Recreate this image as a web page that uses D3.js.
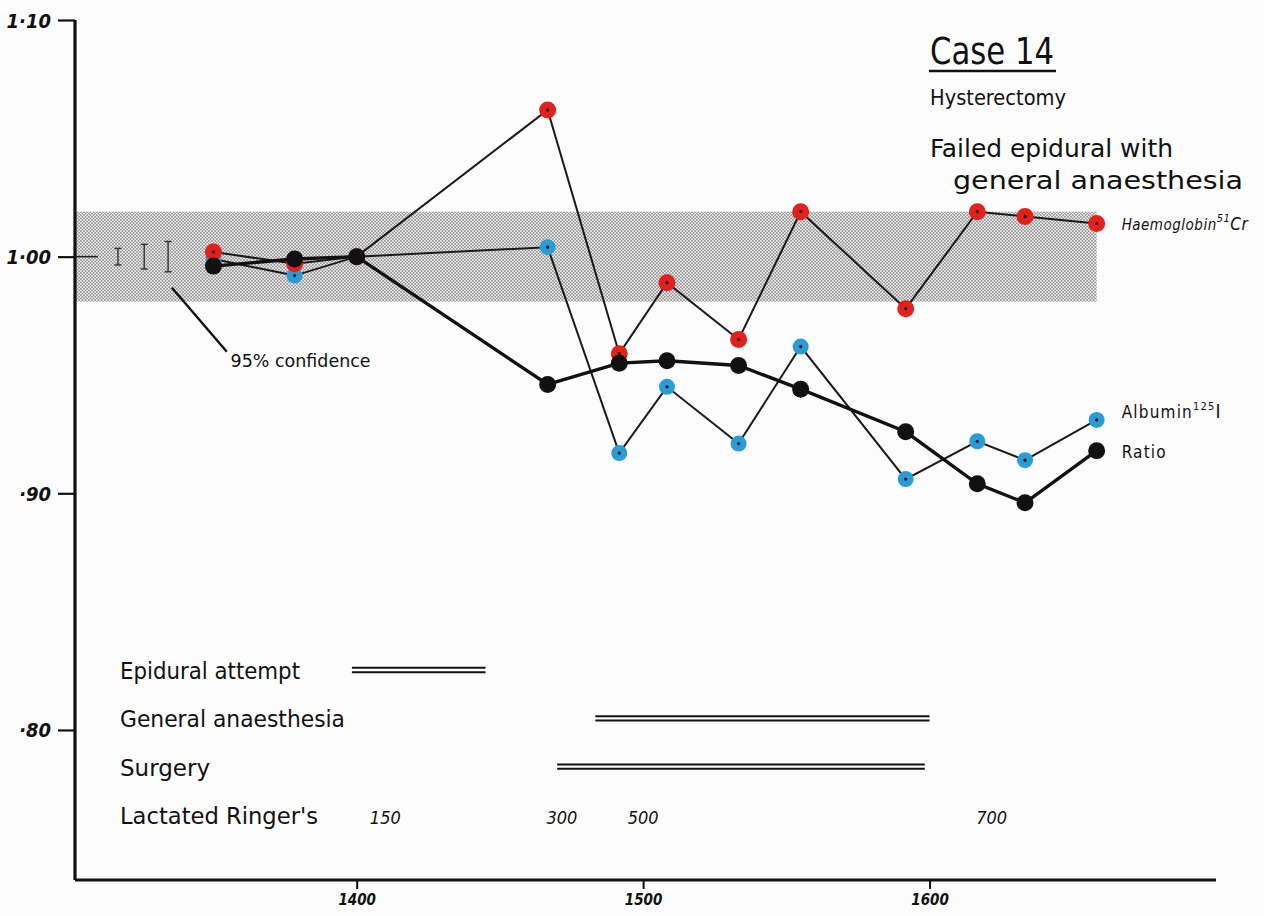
<!DOCTYPE html>
<html>
<head>
<meta charset="utf-8">
<script src="https://cdn.jsdelivr.net/npm/d3@7"></script>
<style>
  html, body { margin: 0; padding: 0; background: #fcfcfc; }
  svg { display: block; }
  .hand { font-family: "DejaVu Sans Condensed", "DejaVu Sans", sans-serif; fill: #111; }
</style>
</head>
<body>
<svg id="chart" width="1264" height="916"></svg>
<script>
// ---------------- DATA ----------------
const sampleTimes = ["13:30","13:47","14:00","14:40","14:55","15:05","15:20","15:33","15:55","16:10","16:20","16:35"];
const haemoglobin = [1.002, 0.997, 1.000, 1.062, 0.959, 0.989, 0.965, 1.019, 0.978, 1.019, 1.017, 1.014];
const albumin     = [0.999, 0.992, 1.000, 1.004, 0.917, 0.945, 0.921, 0.962, 0.906, 0.922, 0.914, 0.931];
const ratio       = [0.996, 0.999, 1.000, 0.946, 0.955, 0.956, 0.954, 0.944, 0.926, 0.904, 0.896, 0.918];

const yTickValues = [1.10, 1.00, 0.90, 0.80];
const yTickLabels = ["1·10", "1·00", "·90", "·80"];
const xTickTimes  = ["14:00", "15:00", "16:00"];
const xTickLabels = ["1400", "1500", "1600"];

const bandRange = [0.981, 1.019];          // normal range (shaded)
const bandEnd = "16:35";
const confTimes = ["13:10", "13:15.5", "13:20.5"];
const confHalf  = [0.0035, 0.0052, 0.0064];

const activities     = ["Epidural attempt", "General anaesthesia", "Surgery", "Lactated Ringer's"];
const activityStart  = ["13:59", "14:50", "14:42"];
const activityEnd    = ["14:27", "16:00", "15:59"];
const ringerTimes    = ["14:06", "14:43", "15:00", "16:13"];
const ringerVolumes  = ["150", "300", "500", "700"];

const titleLines = ["Case 14", "Hysterectomy", "Failed epidural with", "general anaesthesia"];
const seriesNames = ["Haemoglobin", "Albumin", "Ratio"];
const seriesSup   = ["51", "125", ""];
const seriesSuffix = ["Cr", "I", ""];

// ---------------- SETUP ----------------
const toMin = s => { const [h, m] = s.split(":"); return +h * 60 + parseFloat(m); };
const svg = d3.select("#chart");

const x = d3.scaleLinear().domain([781, 1020]).range([75, 1216]);
const y = d3.scaleLinear().domain([0.7366, 1.10]).range([880, 20]);
const rowY = d3.scalePoint().domain(activities).range([670, 815]);

// stipple pattern
const defs = svg.append("defs");
const pat = defs.append("pattern").attr("id", "stipple")
  .attr("width", 3.2).attr("height", 3.2).attr("patternUnits", "userSpaceOnUse");
pat.append("rect").attr("width", 3.2).attr("height", 3.2).attr("fill", "#ececec");
pat.append("circle").attr("cx", 0.8).attr("cy", 0.8).attr("r", 0.8).attr("fill", "#7a7a7a");
pat.append("circle").attr("cx", 2.4).attr("cy", 2.4).attr("r", 0.8).attr("fill", "#7a7a7a");

// shaded band
svg.append("rect")
  .attr("x", x(781)).attr("y", y(bandRange[1]))
  .attr("width", x(toMin(bandEnd)) - x(781))
  .attr("height", y(bandRange[0]) - y(bandRange[1]))
  .attr("fill", "url(#stipple)");

// ---------------- AXES ----------------
const yAxis = d3.axisLeft(y).tickValues(yTickValues)
  .tickFormat((d, i) => yTickLabels[i]).tickSize(17).tickPadding(7);
const gy = svg.append("g").attr("transform", `translate(${x(781)},0)`).call(yAxis);
gy.select(".domain").attr("stroke", "#111").attr("stroke-width", 3.2).attr("d", `M0,${y(1.10)}V${y(0.7366)}`);
gy.selectAll(".tick line").attr("stroke", "#111").attr("stroke-width", 2.2);
gy.selectAll(".tick text").attr("class", "hand")
  .style("font-size", "20px").style("font-weight", "bold").style("font-style", "italic")
  .attr("dy", "0.35em");
// 1.00 tick continues into the band
svg.append("line").attr("x1", x(781)).attr("x2", x(781) + 23)
  .attr("y1", y(1.0)).attr("y2", y(1.0)).attr("stroke", "#222").attr("stroke-width", 1.6);

const xAxis = d3.axisBottom(x).tickValues(xTickTimes.map(toMin))
  .tickFormat((d, i) => xTickLabels[i]).tickSize(9).tickPadding(5);
const gx = svg.append("g").attr("transform", `translate(0,${y(0.7366)})`).call(xAxis);
gx.select(".domain").attr("stroke", "#111").attr("stroke-width", 3).attr("d", `M${x(781)},0H${x(1020)}`);
gx.selectAll(".tick line").attr("stroke", "#111").attr("stroke-width", 2);
gx.selectAll(".tick text").attr("class", "hand")
  .style("font-size", "15px").style("font-weight", "bold").style("font-style", "italic");

// ---------------- CONFIDENCE BARS ----------------
confTimes.forEach((t, i) => {
  const cx = x(toMin(t)), y1 = y(1 + confHalf[i]), y2 = y(1 - confHalf[i]);
  const g = svg.append("g").attr("stroke", "#333").attr("stroke-width", 1.4);
  g.append("line").attr("x1", cx).attr("x2", cx).attr("y1", y1).attr("y2", y2);
  g.append("line").attr("x1", cx - 3.5).attr("x2", cx + 3.5).attr("y1", y1).attr("y2", y1);
  g.append("line").attr("x1", cx - 3.5).attr("x2", cx + 3.5).attr("y1", y2).attr("y2", y2);
});
svg.append("line")
  .attr("x1", x(801.3)).attr("y1", y(0.9869)).attr("x2", x(812.8)).attr("y2", y(0.9598))
  .attr("stroke", "#111").attr("stroke-width", 2.4);
svg.append("text").attr("class", "hand").attr("x", x(813.6)).attr("y", y(0.9533))
  .attr("textLength", 140).attr("lengthAdjust", "spacingAndGlyphs")
  .style("font-size", "17px").text("95% confidence");

// ---------------- SERIES ----------------
const times = sampleTimes.map(toMin);
const line = d3.line().x(d => x(d[0])).y(d => y(d[1]));
const pts = arr => times.map((t, i) => [t, arr[i]]);

svg.append("path").datum(pts(albumin)).attr("d", line)
  .attr("fill", "none").attr("stroke", "#1a1a1a").attr("stroke-width", 2);
svg.append("path").datum(pts(haemoglobin)).attr("d", line)
  .attr("fill", "none").attr("stroke", "#1a1a1a").attr("stroke-width", 2);
svg.append("path").datum(pts(ratio)).attr("d", line)
  .attr("fill", "none").attr("stroke", "#111").attr("stroke-width", 3.4);

function dots(arr, color, r, centre) {
  const g = svg.append("g");
  g.selectAll("circle.m").data(pts(arr)).join("circle").attr("class", "m")
    .attr("cx", d => x(d[0])).attr("cy", d => y(d[1])).attr("r", r).attr("fill", color);
  if (centre) {
    g.selectAll("circle.c").data(pts(arr)).join("circle").attr("class", "c")
      .attr("cx", d => x(d[0])).attr("cy", d => y(d[1])).attr("r", 1.6).attr("fill", "#111");
  }
}
dots(albumin, "#2b9bd6", 8, true);
dots(haemoglobin, "#e2201c", 8.5, true);
dots(ratio, "#111", 8.5, false);

// series labels
const lastT = times[times.length - 1];
const lastVals = [haemoglobin, albumin, ratio].map(a => a[a.length - 1]);
const labelSizes = [15, 17, 17];
const labelDy = [6, -2, 7];
seriesNames.forEach((name, i) => {
  const t = svg.append("text").attr("class", "hand")
    .attr("x", x(lastT) + 25).attr("y", y(lastVals[i]) + labelDy[i])
    .style("font-size", labelSizes[i] + "px").style("font-style", i === 0 ? "italic" : "normal")
    .style("letter-spacing", i === 0 ? "0.5px" : "1.2px");
  t.append("tspan").text(name);
  if (seriesSup[i]) {
    t.append("tspan").attr("dy", -8).style("font-size", "11px").text(seriesSup[i]);
    t.append("tspan").attr("dy", 8).style("font-size", (labelSizes[i] + 2) + "px").text(seriesSuffix[i]);
  }
});

// ---------------- TITLE ----------------
svg.append("text").attr("class", "hand").attr("x", 930).attr("y", 64)
  .attr("textLength", 124).attr("lengthAdjust", "spacingAndGlyphs")
  .style("font-size", "38px").text(titleLines[0]);
svg.append("line").attr("x1", 929).attr("x2", 1056).attr("y1", 71).attr("y2", 71)
  .attr("stroke", "#111").attr("stroke-width", 2.4);
svg.append("text").attr("class", "hand").attr("x", 930).attr("y", 105)
  .attr("textLength", 136).attr("lengthAdjust", "spacingAndGlyphs")
  .style("font-size", "22px").text(titleLines[1]);
svg.append("text").attr("class", "hand").attr("x", 930).attr("y", 157)
  .attr("textLength", 243).attr("lengthAdjust", "spacingAndGlyphs")
  .style("font-size", "24px").text(titleLines[2]);
svg.append("text").attr("class", "hand").attr("x", 953).attr("y", 189)
  .attr("textLength", 290).attr("lengthAdjust", "spacingAndGlyphs")
  .style("font-size", "24px").text(titleLines[3]);

// ---------------- ACTIVITIES ----------------
const activityWidths = [180, 225, 90, 198];
activities.forEach((a, i) => {
  svg.append("text").attr("class", "hand").attr("x", 120).attr("y", rowY(a) + 9)
    .attr("textLength", activityWidths[i]).attr("lengthAdjust", "spacingAndGlyphs")
    .style("font-size", "23px").text(a);
});
activityStart.forEach((s, i) => {
  const yy = rowY(activities[i]);
  [-2.2, 2.2].forEach(off => {
    svg.append("line").attr("x1", x(toMin(s))).attr("x2", x(toMin(activityEnd[i])))
      .attr("y1", yy + off).attr("y2", yy + off)
      .attr("stroke", "#111").attr("stroke-width", 2);
  });
});
ringerTimes.forEach((t, i) => {
  svg.append("text").attr("class", "hand").attr("x", x(toMin(t))).attr("y", rowY(activities[3]) + 9)
    .attr("text-anchor", "middle").style("font-size", "18px").style("font-style", "italic")
    .text(ringerVolumes[i]);
});
</script>
</body>
</html>
